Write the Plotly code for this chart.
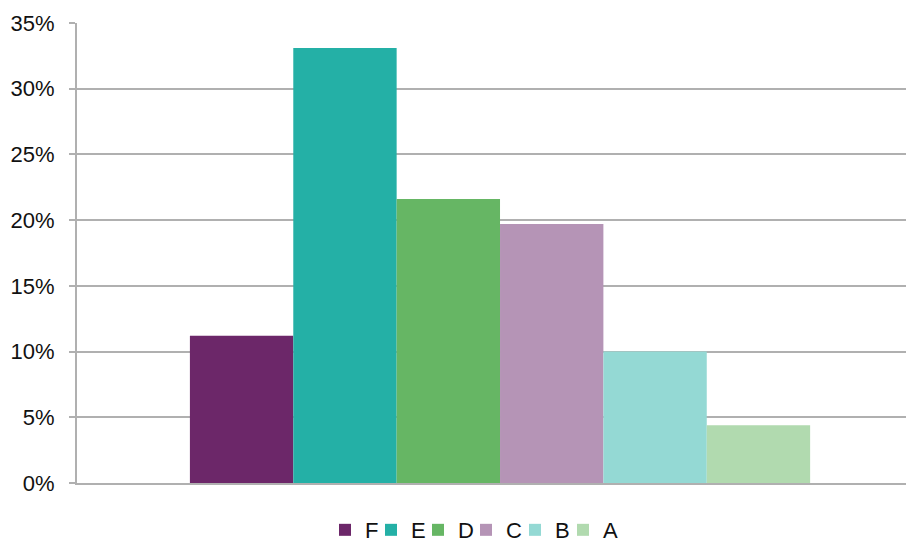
import plotly.graph_objects as go

series = ["F", "E", "D", "C", "B", "A"]
values = [0.112, 0.331, 0.216, 0.197, 0.100, 0.044]
colors = ["#6C2769", "#24B0A6", "#66B664", "#B594B6", "#94D9D4", "#B1DAAF"]
category = [""]
yticks = [0, 0.05, 0.10, 0.15, 0.20, 0.25, 0.30, 0.35]

# legend entry left edges (px in figure), one legend box per series
legend_left_px = [317, 363, 410, 458, 507, 555]
W, H = 914, 544

fig = go.Figure()
legend_layout = {}
for i, (name, v, c) in enumerate(zip(series, values, colors)):
    key = "legend" if i == 0 else f"legend{i+1}"
    fig.add_trace(go.Bar(x=category, y=[v], name=name, legend=key,
                         marker=dict(color=c, line=dict(width=0))))
    legend_layout[key] = dict(orientation="h", xref="container", x=legend_left_px[i] / W,
                              xanchor="left", yref="container", y=0.079, yanchor="top",
                              font=dict(size=22), itemwidth=30, bgcolor="rgba(0,0,0,0)")

fig.update_layout(
    width=W, height=H,
    margin=dict(l=69, r=8, t=15, b=69),
    paper_bgcolor="white", plot_bgcolor="white",
    barmode="group", bargap=0.259, bargroupgap=0,
    font=dict(family="Liberation Sans, Arial, sans-serif", size=22, color="#111111"),
    showlegend=True,
    xaxis=dict(showticklabels=False, showline=True, linecolor="#B0B0B0", linewidth=2,
               ticks="", showgrid=False, zeroline=False, automargin=False,
               range=[-0.5054, 0.4946]),
    yaxis=dict(range=[0, 0.35], tickvals=yticks, tickformat=".0%",
               showgrid=True, gridcolor="#B0B0B0", gridwidth=2,
               showline=True, linecolor="#B0B0B0", linewidth=2,
               ticks="outside", ticklen=6, tickcolor="#B0B0B0", tickwidth=2,
               zeroline=False, ticklabelstandoff=10, automargin=False),
    **legend_layout,
)

fig.write_html("out.html")
